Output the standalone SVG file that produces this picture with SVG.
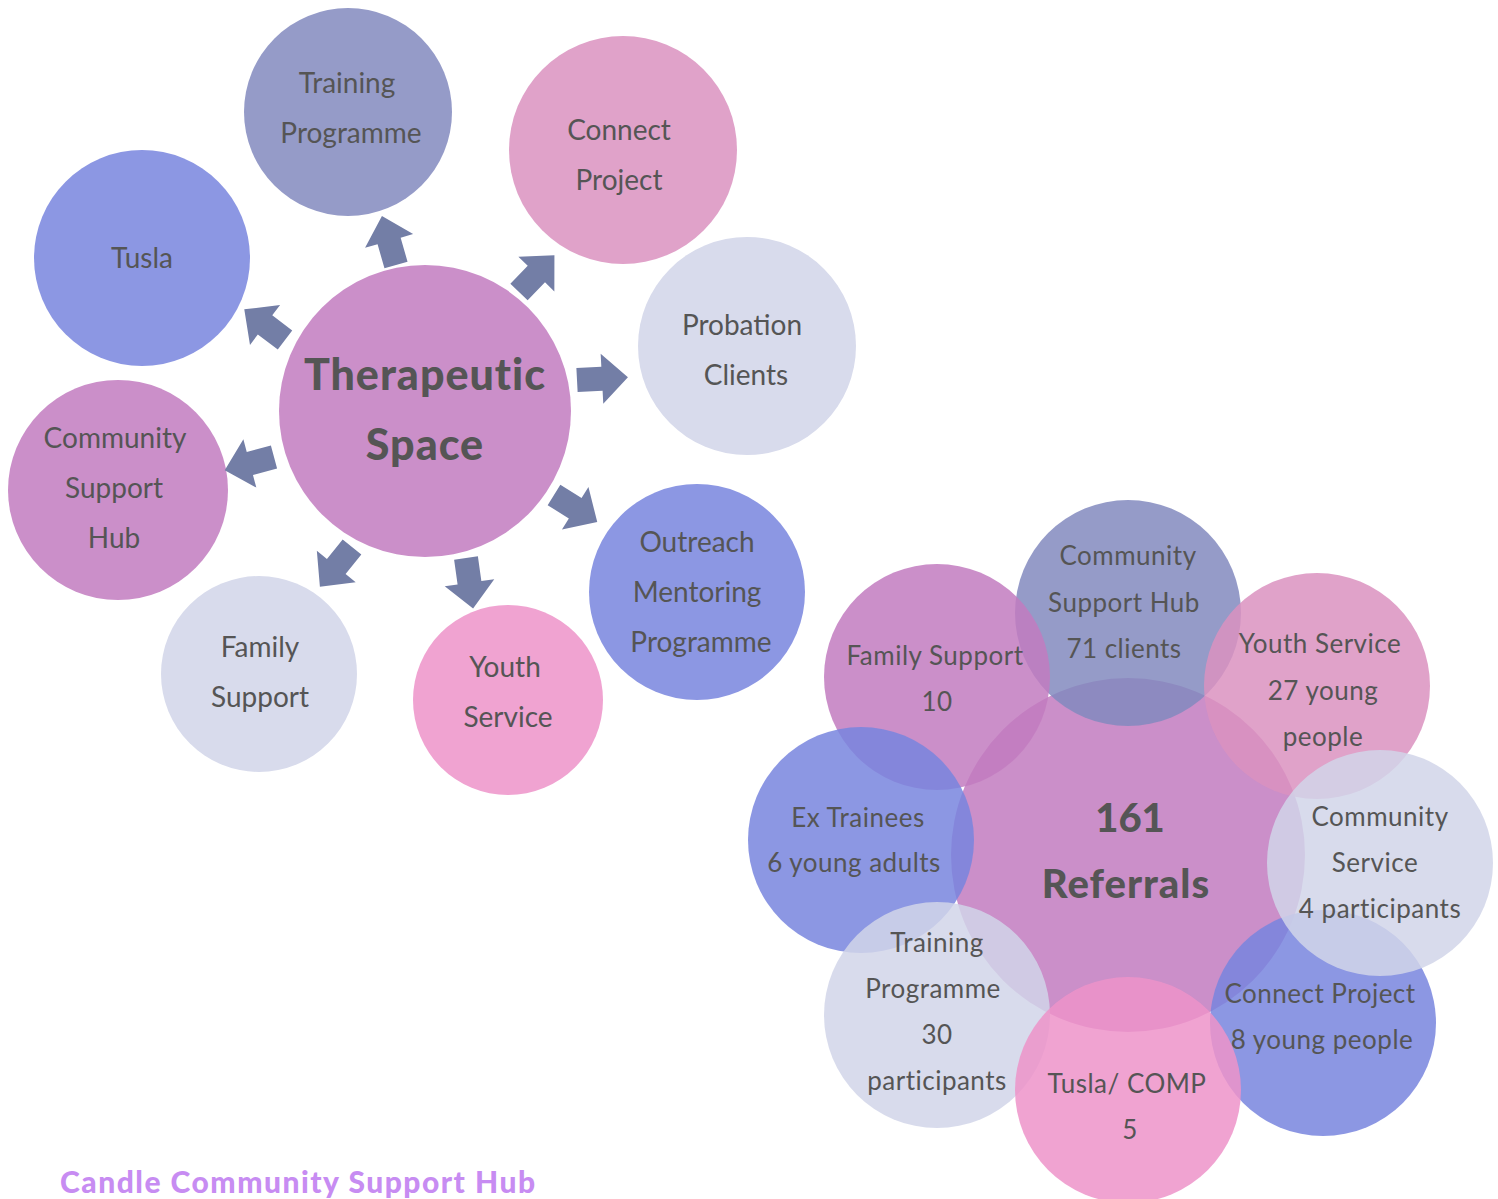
<svg xmlns="http://www.w3.org/2000/svg" width="1498" height="1199" viewBox="0 0 1498 1199">
<style>
  .lbl { font-family: Lato, "Liberation Sans", sans-serif; font-size: 28px; fill: #555555; text-anchor: middle; }
  .sm { font-family: Lato, "Liberation Sans", sans-serif; font-size: 26px; fill: #555555; text-anchor: middle; letter-spacing: 0.5px; }
  .big { font-family: Lato, "Liberation Sans", sans-serif; font-weight: 900; fill: #555555; text-anchor: middle; }
  .petal { opacity: 1; fill-opacity: 0.85; }
  .arrow { fill: #737ea6; }
  .foot { font-family: Lato, "Liberation Sans", sans-serif; font-weight: 900; font-size: 30px; fill: #c78cf2; letter-spacing: 1.5px; }
</style>
<defs>
  <polygon id="arr" points="0,-12 25,-12 25,-25 51,0 25,25 25,12 0,12"/>
</defs>
<rect width="1498" height="1199" fill="#ffffff"/>

<!-- Left cluster -->
<g id="node-training-programme">
  <circle cx="348" cy="112" r="104" fill="#959bc8"/>
  <text class="lbl" x="347" y="93">Training</text>
  <text class="lbl" x="351" y="143">Programme</text>
</g>
<g id="node-tusla">
  <circle cx="142" cy="258" r="108" fill="#8c97e3"/>
  <text class="lbl" x="142" y="268">Tusla</text>
</g>
<g id="node-connect-project">
  <circle cx="623" cy="150" r="114" fill="#e0a2c9"/>
  <text class="lbl" x="619" y="140">Connect</text>
  <text class="lbl" x="619" y="190">Project</text>
</g>
<g id="node-probation-clients">
  <circle cx="747" cy="346" r="109" fill="#d8dbec"/>
  <text class="lbl" x="742" y="335">Probation</text>
  <text class="lbl" x="746" y="385">Clients</text>
</g>
<g id="node-community-support-hub">
  <circle cx="118" cy="490" r="110" fill="#cb8fc9"/>
  <text class="lbl" x="115" y="448">Community</text>
  <text class="lbl" x="114" y="498">Support</text>
  <text class="lbl" x="114" y="548">Hub</text>
</g>
<g id="node-family-support">
  <circle cx="259" cy="674" r="98" fill="#d8dbec"/>
  <text class="lbl" x="260" y="657">Family</text>
  <text class="lbl" x="260" y="707">Support</text>
</g>
<g id="node-youth-service">
  <circle cx="508" cy="700" r="95" fill="#f0a3d1"/>
  <text class="lbl" x="505" y="677">Youth</text>
  <text class="lbl" x="508" y="727">Service</text>
</g>
<g id="node-outreach-mentoring">
  <circle cx="697" cy="592" r="108" fill="#8c97e3"/>
  <text class="lbl" x="697" y="552">Outreach</text>
  <text class="lbl" x="697" y="602">Mentoring</text>
  <text class="lbl" x="701" y="652">Programme</text>
</g>
<g id="node-therapeutic-space">
  <circle cx="425" cy="411" r="146" fill="#cb8fc9"/>
  <text class="big" x="425" y="390" font-size="43" letter-spacing="1">Therapeutic</text>
  <text class="big" x="425" y="460" font-size="43" letter-spacing="1">Space</text>
</g>

<g id="connectors">
  <use href="#arr" class="arrow" transform="translate(396,265) rotate(-106)"/>
  <use href="#arr" class="arrow" transform="translate(519,292) rotate(-46)"/>
  <use href="#arr" class="arrow" transform="translate(577,380) rotate(-3)"/>
  <use href="#arr" class="arrow" transform="translate(554,495) rotate(32)"/>
  <use href="#arr" class="arrow" transform="translate(466,558) rotate(82)"/>
  <use href="#arr" class="arrow" transform="translate(352,547) rotate(129)"/>
  <use href="#arr" class="arrow" transform="translate(274,457) rotate(165)"/>
  <use href="#arr" class="arrow" transform="translate(285,340) rotate(-143)"/>
</g>

<!-- Right cluster -->
<g id="node-161-referrals">
  <circle cx="1128" cy="855" r="177" fill="#cb8fc9"/>
</g>
<g id="node-r-community-support-hub">
  <circle class="petal" cx="1128" cy="613" r="113" fill="#8289be"/>
  <text class="sm" x="1128" y="565">Community</text>
  <text class="sm" x="1124" y="612">Support Hub</text>
  <text class="sm" x="1124" y="658">71 clients</text>
</g>
<g id="node-r-family-support">
  <circle class="petal" cx="937" cy="677" r="113" fill="#c27bbf"/>
  <text class="sm" x="935" y="665">Family Support</text>
  <text class="sm" x="937" y="711">10</text>
</g>
<g id="node-r-youth-service">
  <circle class="petal" cx="1317" cy="686" r="113" fill="#db92c0"/>
  <text class="sm" x="1320" y="653">Youth Service</text>
  <text class="sm" x="1323" y="700">27 young</text>
  <text class="sm" x="1323" y="746">people</text>
</g>
<g id="node-r-ex-trainees">
  <circle class="petal" cx="861" cy="840" r="113" fill="#7885de"/>
  <text class="sm" x="858" y="827">Ex Trainees</text>
  <text class="sm" x="854" y="872">6 young adults</text>
</g>
<g id="node-r-training-programme">
  <circle class="petal" cx="937" cy="1015" r="113" fill="#d1d5e9"/>
  <text class="sm" x="937" y="952">Training</text>
  <text class="sm" x="933" y="998">Programme</text>
  <text class="sm" x="937" y="1044">30</text>
  <text class="sm" x="937" y="1090">participants</text>
</g>
<g id="node-r-connect-project">
  <circle class="petal" cx="1323" cy="1023" r="113" fill="#7885de"/>
  <text class="sm" x="1320" y="1003">Connect Project</text>
  <text class="sm" x="1322" y="1049">8 young people</text>
</g>
<g id="node-r-tusla-comp">
  <circle class="petal" cx="1128" cy="1090" r="113" fill="#ed93c9"/>
  <text class="sm" x="1127" y="1093">Tusla/ COMP</text>
  <text class="sm" x="1130" y="1139">5</text>
</g>
<g id="node-r-community-service">
  <circle class="petal" cx="1380" cy="863" r="113" fill="#d1d5e9"/>
  <text class="sm" x="1380" y="826">Community</text>
  <text class="sm" x="1375" y="872">Service</text>
  <text class="sm" x="1380" y="918">4 participants</text>
</g>
<g id="label-161-referrals">
  <text class="big" x="1130" y="832" font-size="40">161</text>
  <text class="big" x="1126" y="898" font-size="40" letter-spacing="1">Referrals</text>
</g>

<text class="foot" x="60" y="1193">Candle Community Support Hub</text>
</svg>
